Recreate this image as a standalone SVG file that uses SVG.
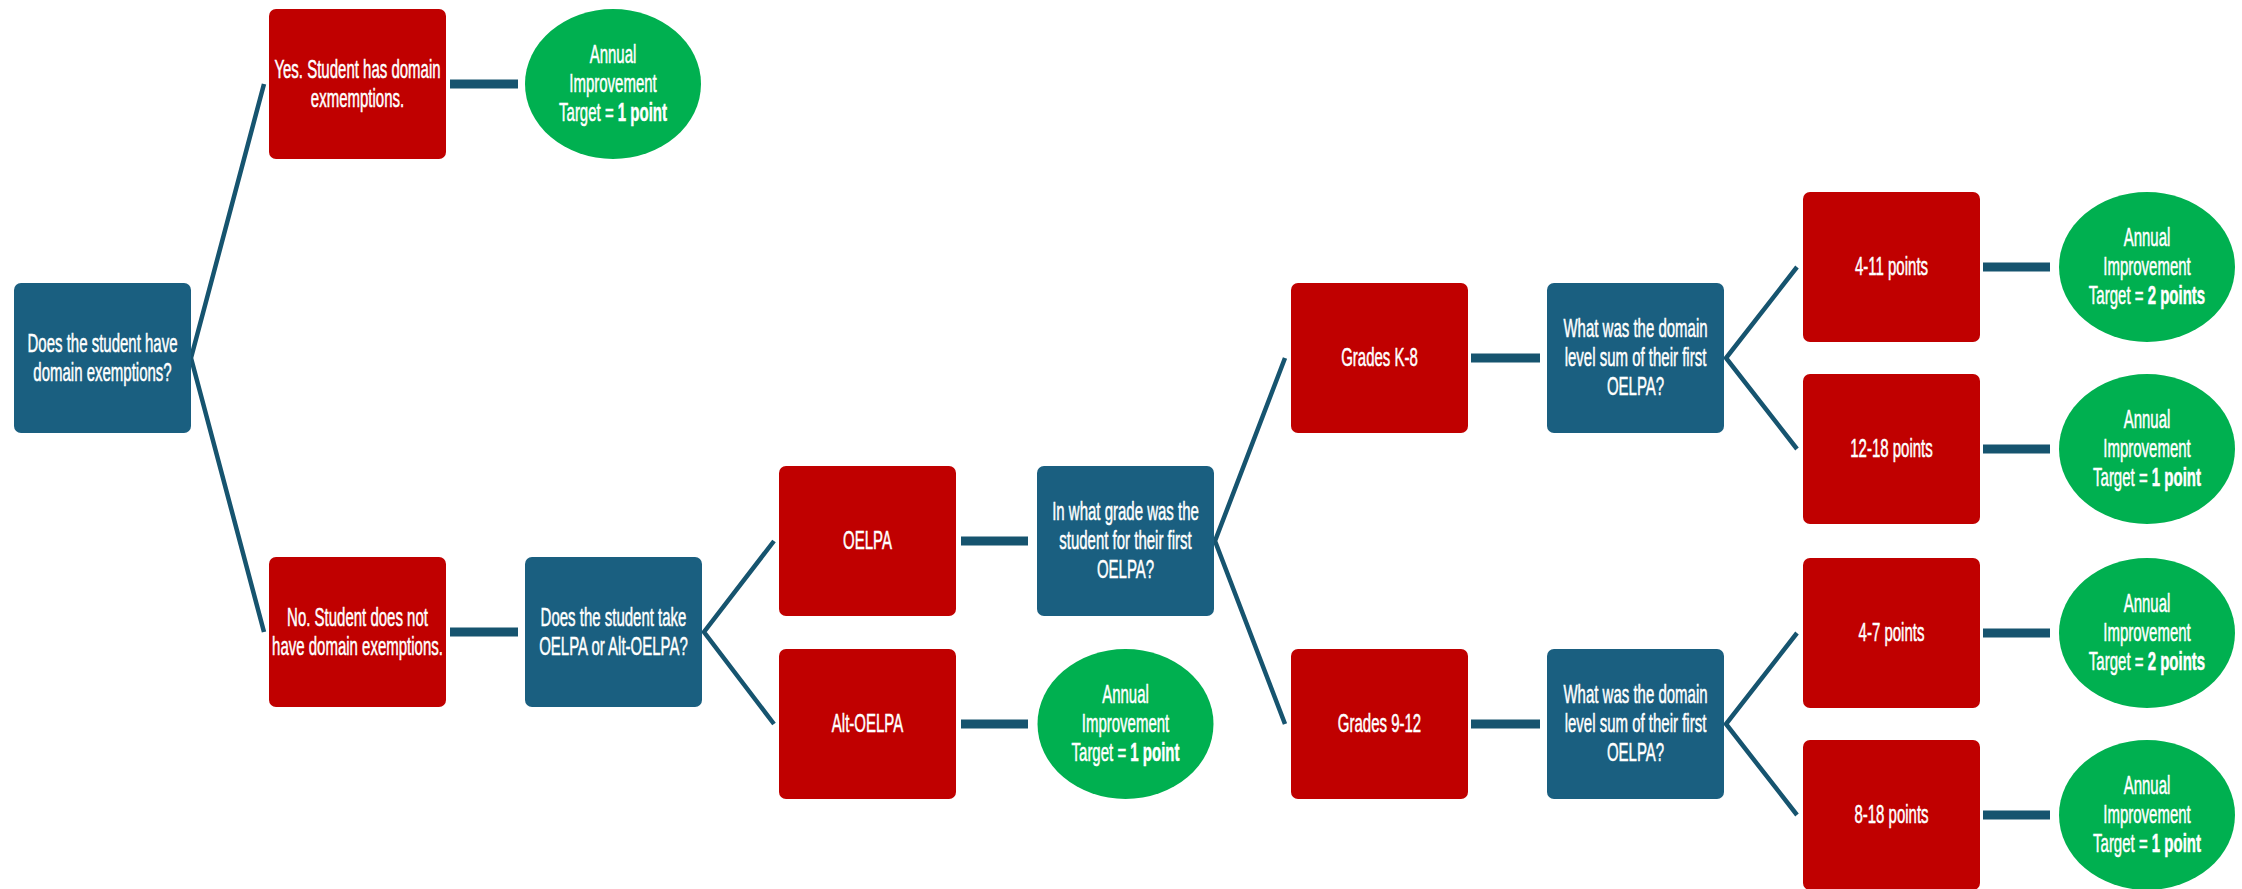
<svg xmlns="http://www.w3.org/2000/svg" width="2242" height="889" viewBox="0 0 2242 889">
<style>
.red{fill:#C00000}
.blue{fill:#1A5F80}
.green{fill:#00B050}
.t{font-family:"Liberation Sans",Arial,sans-serif;font-size:25px;fill:#FFFFFF;text-anchor:middle;stroke:#FFFFFF;stroke-width:0.5}
.b{font-weight:bold}
.thin{stroke:#16546F;stroke-width:4.5;fill:none;stroke-linejoin:miter}
.thick{stroke:#16546F;stroke-width:9;fill:none}
</style>
<rect width="2242" height="889" fill="#FFFFFF"/>
<g id="connectors">
<polyline class="thin" points="264,84 191,358 264,632"/>
<polyline class="thin" points="774,541 704,632 774,724"/>
<polyline class="thin" points="1285,358 1215,541 1285,724"/>
<polyline class="thin" points="1797,267 1726,358 1797,449"/>
<polyline class="thin" points="1797,633 1726,724 1797,815"/>
<line class="thick" x1="450" y1="84" x2="518" y2="84"/>
<line class="thick" x1="450" y1="632" x2="518" y2="632"/>
<line class="thick" x1="961" y1="541" x2="1028" y2="541"/>
<line class="thick" x1="961" y1="724" x2="1028" y2="724"/>
<line class="thick" x1="1471" y1="358" x2="1540" y2="358"/>
<line class="thick" x1="1471" y1="724" x2="1540" y2="724"/>
<line class="thick" x1="1983" y1="267" x2="2050" y2="267"/>
<line class="thick" x1="1983" y1="449" x2="2050" y2="449"/>
<line class="thick" x1="1983" y1="633" x2="2050" y2="633"/>
<line class="thick" x1="1983" y1="815" x2="2050" y2="815"/>
</g>
<g id="root">
<rect class="blue" x="14" y="283" width="177" height="150" rx="7"/>
<text class="t" transform="translate(102.5 0) scale(0.6 1)"><tspan x="0" y="352">Does the student have</tspan><tspan x="0" y="381">domain exemptions?</tspan></text>
</g>
<g id="yes">
<rect class="red" x="269" y="9" width="177" height="150" rx="7"/>
<text class="t" transform="translate(357.5 0) scale(0.6 1)"><tspan x="0" y="78">Yes. Student has domain</tspan><tspan x="0" y="107">exmemptions.</tspan></text>
</g>
<g id="yes-target">
<ellipse class="green" cx="613" cy="84" rx="88" ry="75"/>
<text class="t" transform="translate(613 0) scale(0.6 1)"><tspan x="0" y="63">Annual</tspan><tspan x="0" y="92">Improvement</tspan><tspan x="0" y="121">Target = <tspan class="b">1 point</tspan></tspan></text>
</g>
<g id="no">
<rect class="red" x="269" y="557" width="177" height="150" rx="7"/>
<text class="t" transform="translate(357.5 0) scale(0.6 1)"><tspan x="0" y="626">No. Student does not</tspan><tspan x="0" y="655">have domain exemptions.</tspan></text>
</g>
<g id="take">
<rect class="blue" x="525" y="557" width="177" height="150" rx="7"/>
<text class="t" transform="translate(613.5 0) scale(0.6 1)"><tspan x="0" y="626">Does the student take</tspan><tspan x="0" y="655">OELPA or Alt-OELPA?</tspan></text>
</g>
<g id="oelpa">
<rect class="red" x="779" y="466" width="177" height="150" rx="7"/>
<text class="t" transform="translate(867.5 0) scale(0.6 1)"><tspan x="0" y="549">OELPA</tspan></text>
</g>
<g id="alt-oelpa">
<rect class="red" x="779" y="649" width="177" height="150" rx="7"/>
<text class="t" transform="translate(867.5 0) scale(0.6 1)"><tspan x="0" y="732">Alt-OELPA</tspan></text>
</g>
<g id="grade-q">
<rect class="blue" x="1037" y="466" width="177" height="150" rx="7"/>
<text class="t" transform="translate(1125.5 0) scale(0.6 1)"><tspan x="0" y="520">In what grade was the</tspan><tspan x="0" y="549">student for their first</tspan><tspan x="0" y="578">OELPA?</tspan></text>
</g>
<g id="alt-target">
<ellipse class="green" cx="1125.5" cy="724" rx="88" ry="75"/>
<text class="t" transform="translate(1125.5 0) scale(0.6 1)"><tspan x="0" y="703">Annual</tspan><tspan x="0" y="732">Improvement</tspan><tspan x="0" y="761">Target = <tspan class="b">1 point</tspan></tspan></text>
</g>
<g id="grades-k8">
<rect class="red" x="1291" y="283" width="177" height="150" rx="7"/>
<text class="t" transform="translate(1379.5 0) scale(0.6 1)"><tspan x="0" y="366">Grades K-8</tspan></text>
</g>
<g id="grades-912">
<rect class="red" x="1291" y="649" width="177" height="150" rx="7"/>
<text class="t" transform="translate(1379.5 0) scale(0.6 1)"><tspan x="0" y="732">Grades 9-12</tspan></text>
</g>
<g id="sum-q-top">
<rect class="blue" x="1547" y="283" width="177" height="150" rx="7"/>
<text class="t" transform="translate(1635.5 0) scale(0.6 1)"><tspan x="0" y="337">What was the domain</tspan><tspan x="0" y="366">level sum of their first</tspan><tspan x="0" y="395">OELPA?</tspan></text>
</g>
<g id="sum-q-bottom">
<rect class="blue" x="1547" y="649" width="177" height="150" rx="7"/>
<text class="t" transform="translate(1635.5 0) scale(0.6 1)"><tspan x="0" y="703">What was the domain</tspan><tspan x="0" y="732">level sum of their first</tspan><tspan x="0" y="761">OELPA?</tspan></text>
</g>
<g id="p4-11">
<rect class="red" x="1803" y="192" width="177" height="150" rx="7"/>
<text class="t" transform="translate(1891.5 0) scale(0.6 1)"><tspan x="0" y="275">4-11 points</tspan></text>
</g>
<g id="p12-18">
<rect class="red" x="1803" y="374" width="177" height="150" rx="7"/>
<text class="t" transform="translate(1891.5 0) scale(0.6 1)"><tspan x="0" y="457">12-18 points</tspan></text>
</g>
<g id="p4-7">
<rect class="red" x="1803" y="558" width="177" height="150" rx="7"/>
<text class="t" transform="translate(1891.5 0) scale(0.6 1)"><tspan x="0" y="641">4-7 points</tspan></text>
</g>
<g id="p8-18">
<rect class="red" x="1803" y="740" width="177" height="150" rx="7"/>
<text class="t" transform="translate(1891.5 0) scale(0.6 1)"><tspan x="0" y="823">8-18 points</tspan></text>
</g>
<g id="t4-11">
<ellipse class="green" cx="2147" cy="267" rx="88" ry="75"/>
<text class="t" transform="translate(2147 0) scale(0.6 1)"><tspan x="0" y="246">Annual</tspan><tspan x="0" y="275">Improvement</tspan><tspan x="0" y="304">Target = <tspan class="b">2 points</tspan></tspan></text>
</g>
<g id="t12-18">
<ellipse class="green" cx="2147" cy="449" rx="88" ry="75"/>
<text class="t" transform="translate(2147 0) scale(0.6 1)"><tspan x="0" y="428">Annual</tspan><tspan x="0" y="457">Improvement</tspan><tspan x="0" y="486">Target = <tspan class="b">1 point</tspan></tspan></text>
</g>
<g id="t4-7">
<ellipse class="green" cx="2147" cy="633" rx="88" ry="75"/>
<text class="t" transform="translate(2147 0) scale(0.6 1)"><tspan x="0" y="612">Annual</tspan><tspan x="0" y="641">Improvement</tspan><tspan x="0" y="670">Target = <tspan class="b">2 points</tspan></tspan></text>
</g>
<g id="t8-18">
<ellipse class="green" cx="2147" cy="815" rx="88" ry="75"/>
<text class="t" transform="translate(2147 0) scale(0.6 1)"><tspan x="0" y="794">Annual</tspan><tspan x="0" y="823">Improvement</tspan><tspan x="0" y="852">Target = <tspan class="b">1 point</tspan></tspan></text>
</g>
</svg>
